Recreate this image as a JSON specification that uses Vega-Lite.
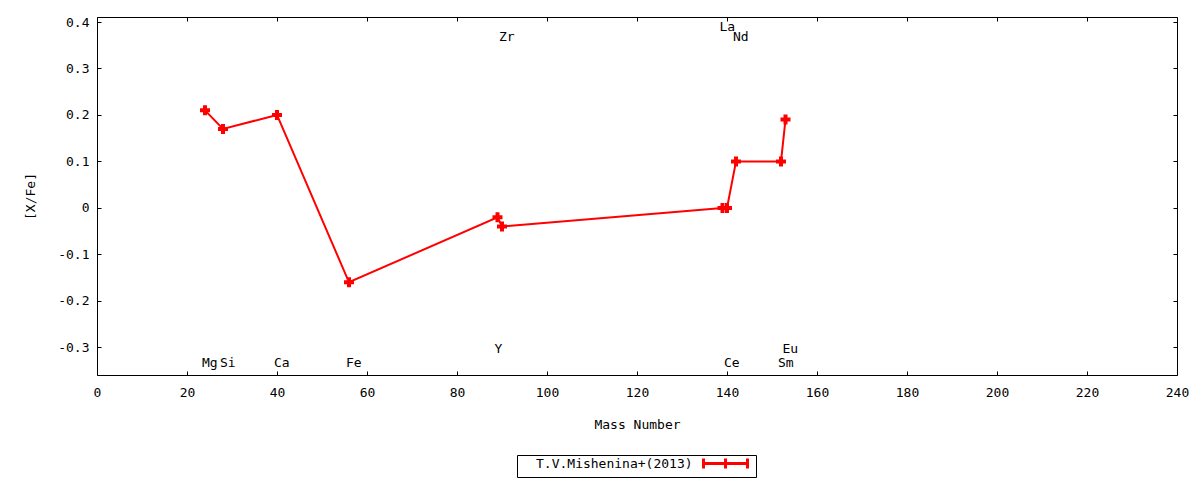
{
  "$schema": "https://vega.github.io/schema/vega-lite/v6.json",
  "width": 1080,
  "height": 358,
  "autosize": {"type": "none"},
  "padding": {"left": 97, "top": 17, "right": 23, "bottom": 105},
  "background": "white",
  "config": {
    "font": "DejaVu Sans Mono",
    "view": {"stroke": "black", "strokeWidth": 1},
    "axis": {
      "labelFont": "DejaVu Sans Mono",
      "titleFont": "DejaVu Sans Mono",
      "labelFontSize": 13,
      "titleFontSize": 13,
      "titleFontWeight": "normal",
      "labelColor": "black",
      "titleColor": "black",
      "grid": false,
      "domain": false,
      "tickColor": "black",
      "tickSize": -4,
      "tickWidth": 1
    },
    "legend": {
      "labelFont": "DejaVu Sans Mono",
      "labelFontSize": 13,
      "labelColor": "black"
    }
  },
  "datasets": {
    "abund": [
      {"element": "Mg", "mass": 24, "xfe": 0.21, "series": "T.V.Mishenina+(2013)"},
      {"element": "Si", "mass": 28, "xfe": 0.17, "series": "T.V.Mishenina+(2013)"},
      {"element": "Ca", "mass": 40, "xfe": 0.20, "series": "T.V.Mishenina+(2013)"},
      {"element": "Fe", "mass": 56, "xfe": -0.16, "series": "T.V.Mishenina+(2013)"},
      {"element": "Y", "mass": 89, "xfe": -0.02, "series": "T.V.Mishenina+(2013)"},
      {"element": "Zr", "mass": 90, "xfe": -0.04, "series": "T.V.Mishenina+(2013)"},
      {"element": "La", "mass": 139, "xfe": 0.0, "series": "T.V.Mishenina+(2013)"},
      {"element": "Ce", "mass": 140, "xfe": 0.0, "series": "T.V.Mishenina+(2013)"},
      {"element": "Nd", "mass": 142, "xfe": 0.10, "series": "T.V.Mishenina+(2013)"},
      {"element": "Sm", "mass": 152, "xfe": 0.10, "series": "T.V.Mishenina+(2013)"},
      {"element": "Eu", "mass": 153, "xfe": 0.19, "series": "T.V.Mishenina+(2013)"}
    ],
    "labels": [
      {"element": "Mg", "mass": 24, "label_y": -0.334},
      {"element": "Si", "mass": 28, "label_y": -0.334},
      {"element": "Ca", "mass": 40, "label_y": -0.334},
      {"element": "Fe", "mass": 56, "label_y": -0.334},
      {"element": "Y", "mass": 89, "label_y": -0.304},
      {"element": "Zr", "mass": 90, "label_y": 0.368},
      {"element": "La", "mass": 139, "label_y": 0.389},
      {"element": "Ce", "mass": 140, "label_y": -0.334},
      {"element": "Nd", "mass": 142, "label_y": 0.368},
      {"element": "Sm", "mass": 152, "label_y": -0.334},
      {"element": "Eu", "mass": 153, "label_y": -0.304}
    ]
  },
  "layer": [
    {
      "data": {"name": "abund"},
      "mark": {"type": "line", "strokeWidth": 2},
      "encoding": {
        "x": {
          "field": "mass",
          "type": "quantitative",
          "title": "Mass Number",
          "scale": {"domain": [0, 240], "nice": false, "zero": false},
          "axis": {"orient": "bottom", "values": [0, 20, 40, 60, 80, 100, 120, 140, 160, 180, 200, 220, 240], "labelPadding": 15, "titlePadding": 19, "labelFlush": false}
        },
        "y": {
          "field": "xfe",
          "type": "quantitative",
          "title": "[X/Fe]",
          "scale": {"domain": [-0.3595, 0.4108], "nice": false, "zero": false},
          "axis": {
            "orient": "left",
            "values": [-0.3, -0.2, -0.1, 0, 0.1, 0.2, 0.3, 0.4],
            "labelExpr": "datum.value == 0 ? '0' : replace(format(datum.value, '.1f'), '\u2212', '-')",
            "labelPadding": 12,
            "titlePadding": 20,
            "labelFlush": false
          }
        },
        "color": {
          "field": "series",
          "type": "nominal",
          "scale": {"domain": ["T.V.Mishenina+(2013)"], "range": ["#ff0000"]},
          "legend": {
            "title": null,
            "orient": "none",
            "legendX": 420,
            "legendY": 438,
            "strokeColor": "black",
            "padding": 2,
            "symbolType": "M89,0L111,0M89,-2.5L89,2.5M100,-2.5L100,2.5M111,-2.5L111,2.5",
            "symbolSize": 16,
            "symbolStrokeWidth": 3,
            "labelOffset": 4,
            "encode": {
              "symbols": {"update": {"fill": {"value": "transparent"}, "stroke": {"value": "#ff0000"}, "strokeWidth": {"value": 3}}}
            }
          }
        }
      }
    },
    {
      "data": {"name": "abund"},
      "mark": {"type": "point", "shape": "cross", "filled": true, "size": 100, "color": "#ff0000", "opacity": 1},
      "encoding": {
        "x": {"field": "mass", "type": "quantitative", "axis": null},
        "y": {"field": "xfe", "type": "quantitative", "axis": null}
      }
    },
    {
      "data": {"name": "labels"},
      "mark": {"type": "text", "align": "left", "baseline": "middle", "dx": -3, "fontSize": 13, "color": "black"},
      "encoding": {
        "x": {
          "field": "mass",
          "type": "quantitative",
          "axis": {"orient": "top", "labels": false, "title": null, "values": [0, 20, 40, 60, 80, 100, 120, 140, 160, 180, 200, 220, 240]}
        },
        "y": {
          "field": "label_y",
          "type": "quantitative",
          "axis": {"orient": "right", "labels": false, "title": null, "values": [-0.3, -0.2, -0.1, 0, 0.1, 0.2, 0.3, 0.4]}
        },
        "text": {"field": "element"}
      }
    }
  ],
  "resolve": {"axis": {"x": "independent", "y": "independent"}}
}
